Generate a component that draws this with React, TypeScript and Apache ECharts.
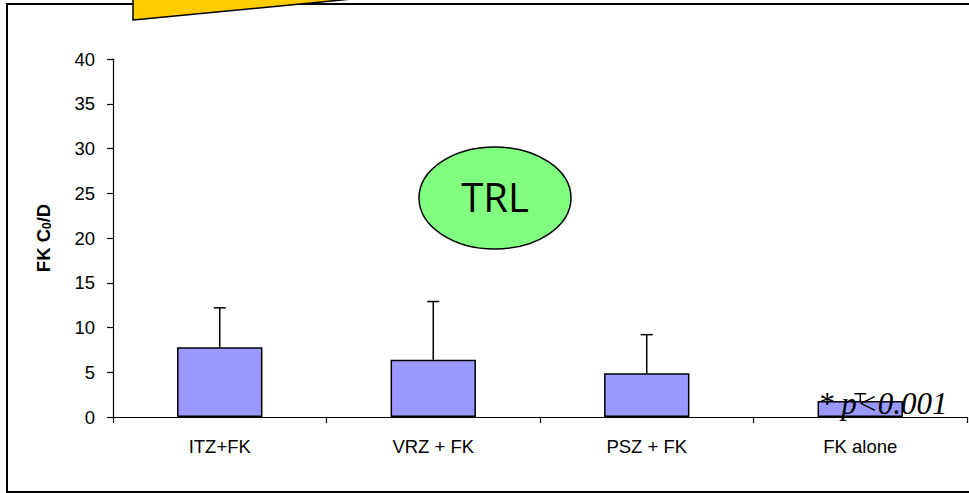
import React, { useEffect, useRef } from "react";
import * as echarts from "echarts";

const categories = ["ITZ+FK", "VRZ + FK", "PSZ + FK", "FK alone"];
const meanValues = [7.8, 6.4, 4.9, 1.8];
const upperValues = [12.2, 12.9, 9.2, 2.6];
const yTicks = { min: 0, max: 40, interval: 5 };

export default function App() {
  const ref = useRef<HTMLDivElement>(null);
  useEffect(() => {
    if (!ref.current) return;
    const chart = echarts.init(ref.current, undefined, { renderer: "svg" });
    const errData = categories.map((_, i) => [i, meanValues[i], upperValues[i]]);
    chart.setOption({
      animation: false,
      backgroundColor: "#ffffff",
      grid: { left: 113, top: 59, width: 854, height: 358, containLabel: false },
      xAxis: {
        type: "category",
        data: categories,
        boundaryGap: true,
        axisLine: { lineStyle: { color: "#000", width: 1.2 } },
        axisTick: { show: true, length: 6, alignWithLabel: false, lineStyle: { color: "#000", width: 1.2 } },
        axisLabel: {
          color: "#000",
          fontFamily: "Liberation Sans, Arial, sans-serif",
          fontSize: 18.5,
          margin: 20,
        },
        splitLine: { show: false },
      },
      yAxis: {
        type: "value",
        min: yTicks.min,
        max: yTicks.max,
        interval: yTicks.interval,
        axisLine: { show: true, lineStyle: { color: "#000", width: 1.2 } },
        axisTick: { show: true, length: 6, lineStyle: { color: "#000", width: 1.2 } },
        axisLabel: {
          color: "#000",
          fontFamily: "Liberation Sans, Arial, sans-serif",
          fontSize: 18.5,
          margin: 18,
        },
        splitLine: { show: false },
        name: "{a|FK C}{s|0}{a|/D}",
        nameLocation: "middle",
        nameGap: 60,
        nameRotate: 90,
        nameTextStyle: {
          padding: [0, 0, 0, 0],
          rich: {
            a: { fontFamily: "Liberation Sans, Arial, sans-serif", fontWeight: "bold", fontSize: 18.5, color: "#000" },
            s: { fontFamily: "Liberation Sans, Arial, sans-serif", fontWeight: "bold", fontSize: 12, color: "#000", verticalAlign: "bottom", padding: [7, 0, 0, 0] },
          },
        },
      },
      series: [
        {
          type: "bar",
          data: meanValues,
          barWidth: "40%",
          itemStyle: { color: "#9999FF", borderColor: "#000", borderWidth: 1.5 },
          z: 2,
        },
        {
          type: "custom",
          data: errData,
          z: 3,
          renderItem: (params: any, api: any) => {
            const x = api.value(0);
            const lo = api.coord([x, api.value(1)]);
            const hi = api.coord([x, api.value(2)]);
            const cap = 6;
            return {
              type: "group",
              children: [
                { type: "line", shape: { x1: lo[0], y1: lo[1], x2: hi[0], y2: hi[1] }, style: { stroke: "#000", lineWidth: 1.5 } },
                { type: "line", shape: { x1: hi[0] - cap, y1: hi[1], x2: hi[0] + cap, y2: hi[1] }, style: { stroke: "#000", lineWidth: 1.5 } },
              ],
            };
          },
        },
      ],
      graphic: [
        {
          type: "rect",
          shape: { x: 7, y: 4, width: 975, height: 488 },
          style: { fill: "none", stroke: "#000", lineWidth: 2 },
          z: 10,
        },
        {
          type: "polygon",
          shape: { points: [[133, 20], [352, -1], [352, -30], [133, -30]] },
          style: { fill: "#FFCC00", stroke: "#000", lineWidth: 1.5 },
          z: 11,
        },
        {
          type: "ellipse",
          shape: { cx: 495, cy: 198, rx: 76, ry: 51 },
          style: { fill: "#80FF80", stroke: "#000", lineWidth: 1.5 },
          z: 11,
        },
        {
          type: "text",
          x: 495,
          y: 196,
          style: {
            text: "TRL",
            fill: "#000",
            fontFamily: "Open Sans, sans-serif",
            fontSize: 40,
            align: "center",
            verticalAlign: "middle",
          },
          z: 12,
        },
        {
          type: "text",
          x: 818,
          y: 403,
          style: {
            text: "* p<0.001",
            fill: "#000",
            fontFamily: "Liberation Serif, Times New Roman, serif",
            fontStyle: "italic",
            fontSize: 31,
            align: "left",
            verticalAlign: "middle",
          },
          z: 12,
        },
      ],
    });
    return () => chart.dispose();
  }, []);
  return (
    <div
      ref={ref}
      style={{ position: "fixed", left: 0, top: 0, width: 969, height: 493 }}
    />
  );
}
